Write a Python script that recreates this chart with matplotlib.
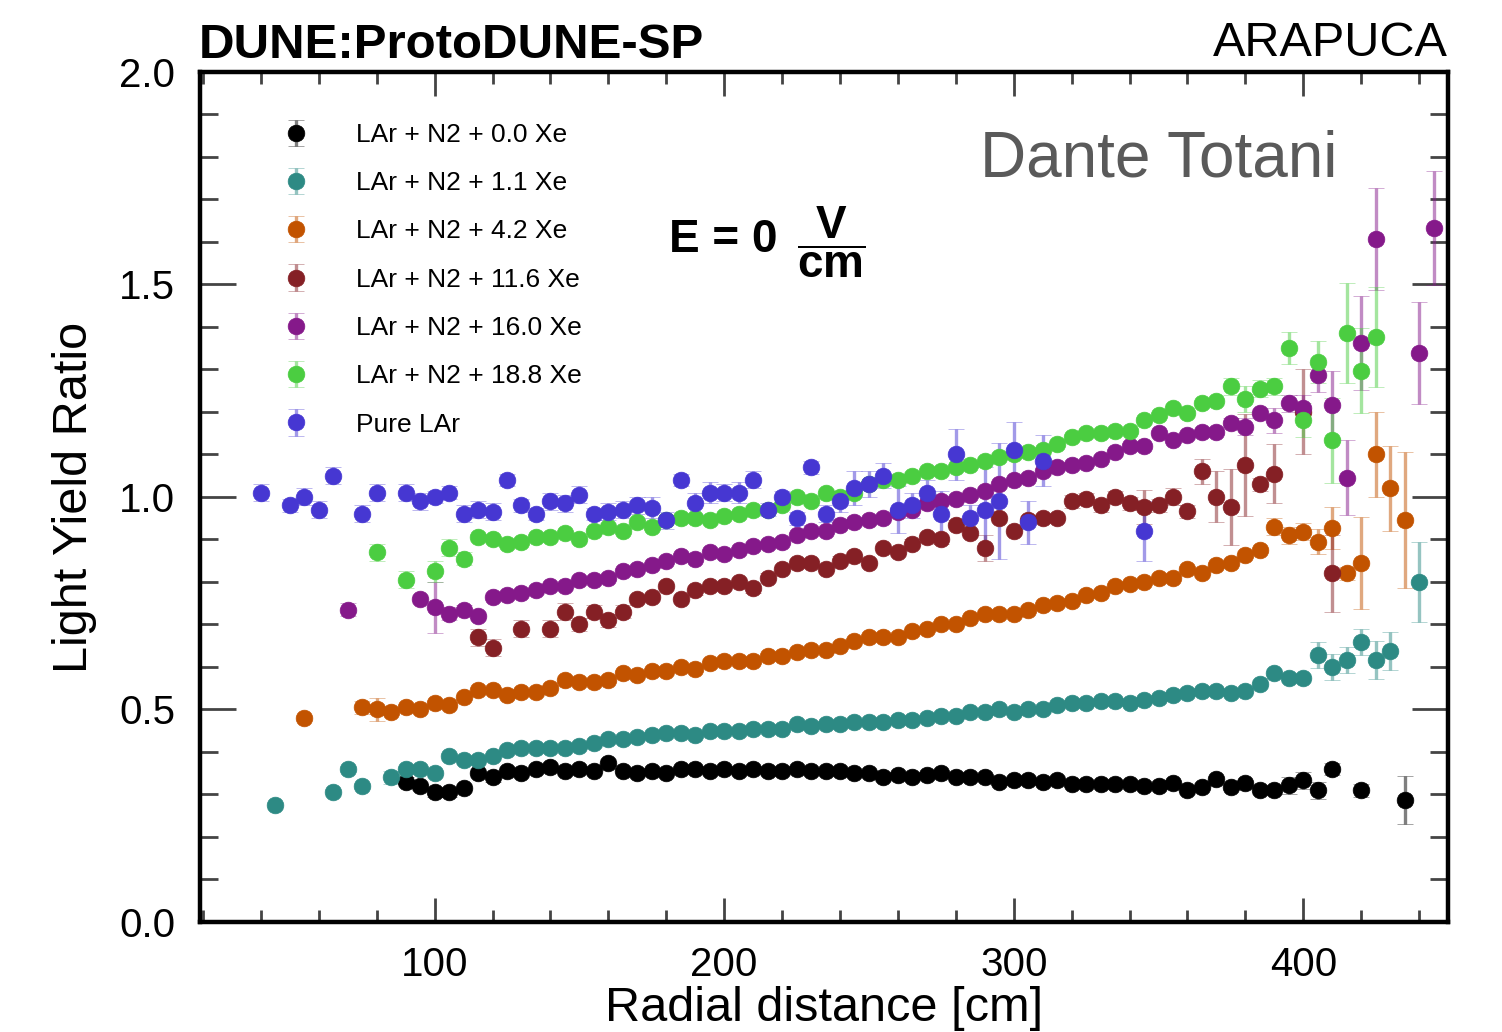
import numpy as np
import matplotlib
matplotlib.use("Agg")
import matplotlib.pyplot as plt
from matplotlib.ticker import MultipleLocator, FormatStrFormatter
from matplotlib.colors import to_rgba

plt.rcParams['font.family'] = ['Liberation Sans', 'DejaVu Sans']
plt.rcParams['mathtext.fontset'] = 'custom'
plt.rcParams['mathtext.rm'] = 'Liberation Sans'
plt.rcParams['mathtext.bf'] = 'Liberation Sans:bold'

# ---- data (radial distance [cm], light yield ratio, error) ----
labels = ["LAr + N2 + 0.0 Xe", "LAr + N2 + 1.1 Xe", "LAr + N2 + 4.2 Xe",
          "LAr + N2 + 11.6 Xe", "LAr + N2 + 16.0 Xe", "LAr + N2 + 18.8 Xe",
          "Pure LAr"]
colors = ["#000000", "#2d8a84", "#c25300", "#852025", "#85198a", "#4bcd41", "#4637d2"]

black_x = list(range(90, 415, 5)) + [420, 435]
black_y = [0.33, 0.32, 0.305, 0.305, 0.315, 0.35, 0.34, 0.355, 0.35, 0.36,
           0.365, 0.355, 0.36, 0.355, 0.375, 0.355, 0.35, 0.355, 0.35, 0.36,
           0.36, 0.355, 0.36, 0.355, 0.36, 0.355, 0.355, 0.36, 0.355, 0.355,
           0.355, 0.35, 0.35, 0.34, 0.345, 0.34, 0.345, 0.35, 0.34, 0.34,
           0.34, 0.33, 0.335, 0.335, 0.33, 0.335, 0.325, 0.325, 0.325, 0.325,
           0.325, 0.32, 0.32, 0.327, 0.31, 0.318, 0.336, 0.318, 0.327, 0.31,
           0.31, 0.322, 0.334, 0.31, 0.36,
           0.31, 0.287]
black_e = [0.01, 0.01, 0.01, 0.01, 0.01, 0.01, 0.01, 0.01, 0.01, 0.01,
           0.008, 0.008, 0.008, 0.008, 0.008, 0.008, 0.008, 0.008, 0.008, 0.008,
           0.008, 0.008, 0.008, 0.008, 0.008, 0.008, 0.008, 0.008, 0.008, 0.008,
           0.008, 0.008, 0.008, 0.008, 0.008, 0.008, 0.008, 0.008, 0.008, 0.008,
           0.008, 0.008, 0.008, 0.008, 0.008, 0.008, 0.008, 0.008, 0.008, 0.008,
           0.008, 0.008, 0.008, 0.008, 0.008, 0.008, 0.008, 0.008, 0.008, 0.008,
           0.01, 0.02, 0.02, 0.02, 0.015,
           0.015, 0.057]

teal_x = [45, 65, 70, 75] + list(range(85, 435, 5)) + [440]
teal_y = [0.275, 0.305, 0.36, 0.32,
          0.34, 0.36, 0.36, 0.35, 0.39, 0.38, 0.38, 0.39, 0.405, 0.41,
          0.41, 0.41, 0.41, 0.415, 0.42, 0.43, 0.43, 0.435, 0.44, 0.445,
          0.445, 0.44, 0.45, 0.45, 0.45, 0.455, 0.455, 0.455, 0.465, 0.46,
          0.465, 0.465, 0.47, 0.47, 0.47, 0.475, 0.475, 0.48, 0.485, 0.485,
          0.495, 0.495, 0.50, 0.495, 0.50, 0.50, 0.51, 0.515, 0.515, 0.52,
          0.52, 0.515, 0.522, 0.527, 0.534, 0.539, 0.543, 0.543, 0.539, 0.543,
          0.56, 0.585, 0.574, 0.574, 0.628, 0.60, 0.616, 0.659, 0.616, 0.637,
          0.80]
teal_e = [0.008, 0.008, 0.008, 0.008,
          0.015, 0.008, 0.008, 0.008, 0.008, 0.008, 0.008, 0.008, 0.008, 0.008,
          0.008, 0.008, 0.008, 0.008, 0.008, 0.008, 0.008, 0.008, 0.008, 0.008,
          0.008, 0.008, 0.008, 0.008, 0.008, 0.008, 0.008, 0.008, 0.008, 0.008,
          0.008, 0.008, 0.008, 0.008, 0.008, 0.008, 0.008, 0.008, 0.008, 0.008,
          0.008, 0.008, 0.008, 0.008, 0.008, 0.008, 0.008, 0.008, 0.008, 0.008,
          0.008, 0.008, 0.008, 0.008, 0.008, 0.008, 0.008, 0.008, 0.008, 0.008,
          0.01, 0.01, 0.01, 0.01, 0.03, 0.03, 0.03, 0.03, 0.045, 0.045,
          0.094]

orange_x = [55] + list(range(75, 440, 5))
orange_y = [0.48,
            0.505, 0.50, 0.495, 0.505, 0.50, 0.515, 0.51, 0.53, 0.545, 0.545,
            0.535, 0.54, 0.54, 0.55, 0.57, 0.565, 0.565, 0.57, 0.585, 0.58,
            0.59, 0.59, 0.60, 0.595, 0.61, 0.615, 0.615, 0.615, 0.625, 0.625,
            0.635, 0.64, 0.64, 0.65, 0.66, 0.67, 0.67, 0.67, 0.685, 0.69,
            0.70, 0.70, 0.715, 0.725, 0.725, 0.725, 0.735, 0.745, 0.75, 0.755,
            0.77, 0.775, 0.79, 0.795, 0.80, 0.81, 0.81, 0.83, 0.82, 0.84,
            0.845, 0.864, 0.875, 0.93, 0.91, 0.918, 0.895, 0.927, 0.82, 0.845,
            1.10, 1.02, 0.945]
orange_e = [0.008,
            0.015, 0.027, 0.008, 0.008, 0.008, 0.008, 0.008, 0.008, 0.008, 0.008,
            0.008, 0.008, 0.008, 0.008, 0.008, 0.008, 0.008, 0.008, 0.008, 0.008,
            0.008, 0.008, 0.008, 0.008, 0.008, 0.008, 0.008, 0.008, 0.008, 0.008,
            0.008, 0.008, 0.008, 0.008, 0.008, 0.008, 0.008, 0.008, 0.008, 0.008,
            0.008, 0.008, 0.008, 0.008, 0.008, 0.008, 0.008, 0.008, 0.008, 0.008,
            0.008, 0.008, 0.008, 0.008, 0.008, 0.008, 0.008, 0.008, 0.008, 0.008,
            0.008, 0.008, 0.008, 0.02, 0.02, 0.02, 0.03, 0.05, 0.015, 0.108,
            0.10, 0.10, 0.16]

maroon_x = [115, 120, 130] + list(range(140, 395, 5)) + [400, 410]
maroon_y = [0.67, 0.645, 0.69,
            0.69, 0.73, 0.70, 0.73, 0.71, 0.73, 0.76, 0.765, 0.79, 0.76,
            0.78, 0.79, 0.79, 0.80, 0.785, 0.81, 0.83, 0.845, 0.845, 0.83,
            0.85, 0.86, 0.845, 0.88, 0.87, 0.89, 0.905, 0.90, 0.935, 0.915,
            0.88, 0.95, 0.92, 0.945, 0.95, 0.95, 0.99, 0.995, 0.98, 1.0,
            0.985, 0.977, 0.98, 1.0, 0.966, 1.06, 1.0, 0.976, 1.075, 1.03,
            1.055,
            1.2, 0.82]
maroon_e = [0.02, 0.02, 0.02,
            0.02, 0.02, 0.015, 0.015, 0.015, 0.015, 0.01, 0.01, 0.01, 0.01,
            0.01, 0.01, 0.01, 0.01, 0.01, 0.01, 0.01, 0.01, 0.01, 0.01,
            0.01, 0.01, 0.01, 0.01, 0.01, 0.01, 0.01, 0.01, 0.01, 0.01,
            0.03, 0.01, 0.01, 0.01, 0.01, 0.01, 0.015, 0.015, 0.015, 0.015,
            0.015, 0.04, 0.015, 0.02, 0.015, 0.03, 0.06, 0.09, 0.12, 0.015,
            0.07,
            0.1, 0.09]

purple_x = [70, 95, 100, 105, 110, 115] + list(range(120, 430, 5)) + [440, 445]
purple_y = [0.735, 0.76, 0.74, 0.725, 0.735, 0.72,
            0.765, 0.77, 0.775, 0.78, 0.79, 0.79, 0.805, 0.805, 0.81, 0.825,
            0.83, 0.84, 0.85, 0.86, 0.855, 0.87, 0.865, 0.875, 0.885, 0.89,
            0.895, 0.91, 0.92, 0.92, 0.935, 0.94, 0.945, 0.95, 0.965, 0.97,
            0.985, 0.99, 0.995, 1.005, 1.015, 1.03, 1.04, 1.045, 1.06, 1.07,
            1.075, 1.08, 1.09, 1.105, 1.12, 1.12, 1.15, 1.135, 1.145, 1.153,
            1.153, 1.175, 1.165, 1.197, 1.18, 1.22, 1.21, 1.287, 1.216, 1.045,
            1.362, 1.607,
            1.339, 1.633]
purple_e = [0.015, 0.01, 0.06, 0.015, 0.01, 0.01,
            0.008, 0.008, 0.008, 0.008, 0.008, 0.008, 0.008, 0.008, 0.008, 0.008,
            0.008, 0.008, 0.008, 0.008, 0.008, 0.008, 0.008, 0.008, 0.008, 0.008,
            0.008, 0.008, 0.008, 0.008, 0.008, 0.008, 0.008, 0.008, 0.008, 0.008,
            0.008, 0.008, 0.008, 0.008, 0.008, 0.008, 0.008, 0.008, 0.008, 0.008,
            0.008, 0.008, 0.008, 0.008, 0.008, 0.008, 0.008, 0.008, 0.008, 0.008,
            0.008, 0.01, 0.02, 0.01, 0.03, 0.02, 0.03, 0.04, 0.08, 0.088,
            0.11, 0.12,
            0.12, 0.135]

green_x = [80, 90] + list(range(100, 430, 5))
green_y = [0.87, 0.805,
           0.825, 0.88, 0.855, 0.905, 0.90, 0.89, 0.895, 0.905, 0.905, 0.915,
           0.90, 0.92, 0.93, 0.92, 0.94, 0.93, 0.945, 0.95, 0.95, 0.945,
           0.955, 0.96, 0.97, 0.97, 0.98, 1.0, 0.99, 1.01, 1.0, 1.01,
           1.03, 1.04, 1.04, 1.05, 1.06, 1.06, 1.07, 1.075, 1.085, 1.095,
           1.10, 1.105, 1.11, 1.125, 1.14, 1.15, 1.15, 1.155, 1.155, 1.18,
           1.193, 1.21, 1.197, 1.22, 1.225, 1.26, 1.23, 1.255, 1.26, 1.35,
           1.18, 1.318, 1.134, 1.386, 1.297, 1.376]
green_e = [0.02, 0.02,
           0.025, 0.02, 0.015, 0.008, 0.008, 0.008, 0.008, 0.008, 0.008, 0.008,
           0.008, 0.008, 0.008, 0.008, 0.008, 0.008, 0.008, 0.008, 0.008, 0.008,
           0.008, 0.008, 0.008, 0.008, 0.008, 0.008, 0.008, 0.008, 0.008, 0.008,
           0.008, 0.008, 0.008, 0.008, 0.008, 0.008, 0.008, 0.008, 0.008, 0.008,
           0.008, 0.008, 0.008, 0.008, 0.008, 0.008, 0.008, 0.008, 0.008, 0.008,
           0.008, 0.008, 0.008, 0.008, 0.008, 0.02, 0.03, 0.02, 0.02, 0.037,
           0.04, 0.05, 0.1, 0.118, 0.1, 0.117]

blue_x = [40, 50, 55, 60, 65, 75, 80] + list(range(90, 315, 5)) + [345]
blue_y = [1.01, 0.98, 1.0, 0.97, 1.05, 0.96, 1.01,
          1.01, 0.99, 1.0, 1.01, 0.96, 0.97, 0.965, 1.04, 0.98, 0.96,
          0.99, 0.985, 1.005, 0.96, 0.965, 0.97, 0.98, 0.975, 0.945, 1.04,
          0.985, 1.01, 1.01, 1.01, 1.04, 0.97, 1.0, 0.95, 1.07, 0.96,
          0.99, 1.02, 1.03, 1.05, 0.97, 0.98, 1.01, 0.96, 1.10, 0.95,
          0.97, 0.99, 1.11, 0.94, 1.085,
          0.92]
blue_e = [0.02, 0.015, 0.02, 0.02, 0.02, 0.02, 0.02,
          0.02, 0.02, 0.015, 0.015, 0.02, 0.02, 0.02, 0.015, 0.015, 0.015,
          0.02, 0.02, 0.02, 0.015, 0.02, 0.02, 0.02, 0.025, 0.02, 0.015,
          0.025, 0.025, 0.02, 0.025, 0.02, 0.015, 0.015, 0.015, 0.015, 0.02,
          0.025, 0.04, 0.03, 0.03, 0.055, 0.03, 0.03, 0.055, 0.06, 0.03,
          0.1, 0.136, 0.067, 0.05, 0.06,
          0.07]

series = [(black_x, black_y, black_e), (teal_x, teal_y, teal_e),
          (orange_x, orange_y, orange_e), (maroon_x, maroon_y, maroon_e),
          (purple_x, purple_y, purple_e), (green_x, green_y, green_e),
          (blue_x, blue_y, blue_e)]

# ---- figure ----
fig = plt.figure(figsize=(15.02, 10.32), dpi=100)
ax = fig.add_axes([0.1332, 0.1066, 0.8309, 0.8237])

handles = []
for (x, y, e), c, lab in zip(series, colors, labels):
    h = ax.errorbar(x, y, yerr=e, fmt='o', color=c, ms=12, mec=c, mew=0.5,
                    ecolor=to_rgba(c, 0.5), elinewidth=2.4, capsize=6,
                    capthick=2.4, label=lab)
    handles.append(h)

ax.set_xlim(19, 450)
ax.set_ylim(0, 2.0)
ax.xaxis.set_major_locator(MultipleLocator(100))
ax.xaxis.set_minor_locator(MultipleLocator(20))
ax.yaxis.set_major_locator(MultipleLocator(0.5))
ax.yaxis.set_minor_locator(MultipleLocator(0.1))
ax.yaxis.set_major_formatter(FormatStrFormatter('%.1f'))

ax.tick_params(which='both', direction='in', top=True, right=True,
               color='#444444', width=2, labelsize=29)
ax.tick_params(axis='x', which='major', length=17, pad=17)
ax.tick_params(axis='x', which='minor', length=8.5)
ax.tick_params(axis='y', which='major', length=26, pad=18)
ax.tick_params(axis='y', which='minor', length=13)
for s in ax.spines.values():
    s.set_linewidth(3.2)

ax.set_xlabel('Radial distance [cm]', fontsize=35, labelpad=2)
ax.set_ylabel('Light Yield Ratio', fontsize=35, labelpad=16)

ax.legend(handles, labels, loc='upper left', bbox_to_anchor=(0.066, 0.94),
          frameon=False, fontsize=19, handlelength=1.0, handletextpad=1.8,
          labelspacing=0.92, borderpad=0, borderaxespad=0)

ax.text(0.376, 0.802, 'E = 0', transform=ax.transAxes, fontsize=33,
        fontweight='bold', ha='left', va='center')
ax.text(0.478, 0.799, r'$\dfrac{\mathbf{V}}{\mathbf{cm}}$',
        transform=ax.transAxes, fontsize=33, ha='left', va='center')
ax.text(0.625, 0.897, 'Dante Totani', transform=ax.transAxes,
        fontsize=46, color='#5a5a5a', ha='left', va='center')

fig.text(0.132, 0.944, 'DUNE:ProtoDUNE-SP', fontsize=35.5, fontweight='bold',
         ha='left', va='baseline')
fig.text(0.964, 0.946, 'ARAPUCA', fontsize=35, ha='right', va='baseline')

fig.savefig('out.png', dpi=100)
